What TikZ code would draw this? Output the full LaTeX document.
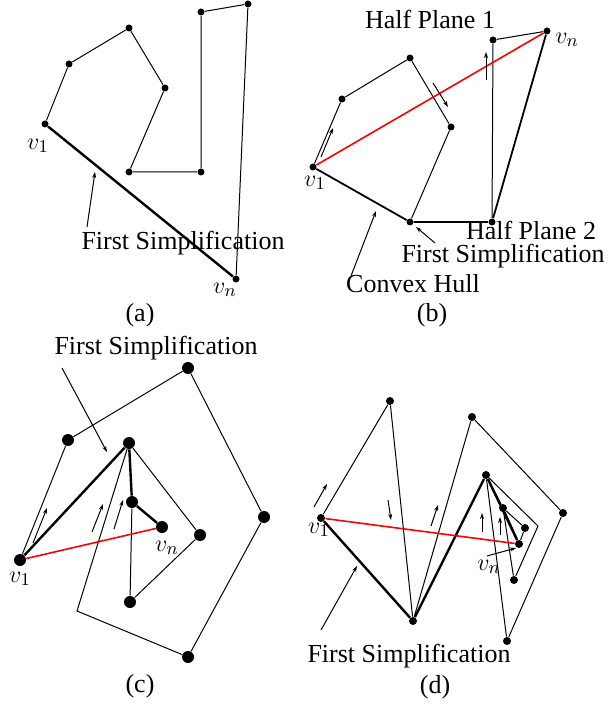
\documentclass[tikz,border=0pt]{standalone}
\usepackage{fontspec}
\setmainfont{Liberation Serif}
\usepackage{tikz}
\usetikzlibrary{arrows.meta}

\begin{document}
\begin{tikzpicture}[x=0.5pt,y=-0.5pt,>={Stealth[length=3pt,width=2pt]},
  dot/.style={circle,fill,inner sep=0pt,minimum size=3.5pt},
  middot/.style={circle,fill,inner sep=0pt,minimum size=4pt},
  bigdot/.style={circle,fill,inner sep=0pt,minimum size=6pt},
  poly/.style={line width=0.5pt},
  simp/.style={line width=1.2pt},
  chord/.style={red,line width=0.8pt},
  hint/.style={->,line width=0.5pt},
  lbl/.style={font=\fontsize{13}{15}\selectfont,inner sep=0pt}]
  \useasboundingbox (0,0) rectangle (608,704);

  % (a)
  \node[dot] (av1) at (45,124) {};
  \node[dot] (a2) at (69,64) {};
  \node[dot] (a3) at (129,28) {};
  \node[dot] (a4) at (165,88) {};
  \node[dot] (a5) at (129,172) {};
  \node[dot] (a6) at (201,172) {};
  \node[dot] (a7) at (201,12) {};
  \node[dot] (a8) at (248,4) {};
  \node[dot] (avn) at (236,279) {};
  \draw[poly] (av1) -- (a2) -- (a3) -- (a4) -- (a5) -- (a6) -- (a7) -- (a8) -- (avn);
  \draw[simp] (av1) -- (avn);
  \node[lbl] (av1l) at (38,146) {$v_1$};
  \node[lbl] (avnl) at (225,290) {$v_n$};
  \node[lbl,anchor=base] (afs) at (183,250) {First Simplification};
  \coordinate (afs0) at (87,227);
  \coordinate (afs1) at (95,172);
  \draw[hint] (afs0) -- (afs1);
  \node[lbl,anchor=base] (acap) at (140,322) {(a)};

  % (b)
  \node[dot] (bv1) at (313,167) {};
  \node[dot] (b2) at (342,99) {};
  \node[dot] (b3) at (410,58) {};
  \node[dot] (b4) at (451,127) {};
  \node[dot] (b5) at (410,222) {};
  \node[dot] (b6) at (492,222) {};
  \node[dot] (b7) at (493,40) {};
  \node[dot] (bvn) at (547,31) {};
  \draw[poly] (bv1) -- (b2) -- (b3) -- (b4) -- (b5);
  \draw[poly] (b6) -- (b7) -- (bvn);
  \draw[line width=0.9pt] (bv1) -- (b5) -- (b6) -- (bvn);
  \draw[chord] (bv1) -- (bvn);
  \coordinate (bh1) at (321,157); \coordinate (bh2) at (333,128);
  \coordinate (bh3) at (433,83);  \coordinate (bh4) at (448,107);
  \coordinate (bh5) at (486,80);  \coordinate (bh6) at (486,52);
  \draw[hint] (bh1) -- (bh2);
  \draw[hint] (bh3) -- (bh4);
  \draw[hint] (bh5) -- (bh6);
  \node[lbl] (bv1l) at (315,183) {$v_1$};
  \node[lbl] (bvnl) at (567,40) {$v_n$};
  \node[lbl,anchor=base] (bhp1) at (430,29) {Half Plane 1};
  \node[lbl,anchor=base] (bhp2) at (531,240) {Half Plane 2};
  \node[lbl,anchor=base] (bfs) at (503,263) {First Simplification};
  \node[lbl,anchor=base] (bch) at (413,293) {Convex Hull};
  \coordinate (bfs0) at (435,243); \coordinate (bfs1) at (416,227);
  \coordinate (bch0) at (351,276); \coordinate (bch1) at (376,211);
  \draw[hint] (bfs0) -- (bfs1);
  \draw[hint] (bch0) -- (bch1);
  \node[lbl,anchor=base] (bcap) at (432,322) {(b)};

  % (c)
  \node[bigdot] (cv1) at (20,560) {};
  \node[bigdot] (c2) at (68,440) {};
  \node[bigdot] (c3) at (188,368) {};
  \node[bigdot] (c4) at (264,517) {};
  \node[bigdot] (c5) at (188,657) {};
  \coordinate (c6) at (77,611);
  \node[bigdot] (c7) at (129,443) {};
  \node[bigdot] (c8) at (200,535) {};
  \node[bigdot] (c9) at (130,602) {};
  \node[bigdot] (c10) at (132,502) {};
  \node[bigdot] (cvn) at (162,527) {};
  \draw[poly] (cv1) -- (c2) -- (c3) -- (c4) -- (c5) -- (c6) -- (c7) -- (c8) -- (c9) -- (c10);
  \draw[simp] (cv1) -- (c7) -- (c10) -- (cvn);
  \draw[chord] (cv1) -- (cvn);
  \coordinate (ch1) at (33,543);  \coordinate (ch2) at (47,508);
  \coordinate (ch3) at (92,532);  \coordinate (ch4) at (103,504);
  \coordinate (ch5) at (114,529); \coordinate (ch6) at (123,500);
  \draw[hint] (ch1) -- (ch2);
  \draw[hint] (ch3) -- (ch4);
  \draw[hint] (ch5) -- (ch6);
  \node[lbl] (cv1l) at (20,579) {$v_1$};
  \node[lbl] (cvnl) at (167,548) {$v_n$};
  \node[lbl,anchor=base] (cfs) at (156,355) {First Simplification};
  \coordinate (cfs0) at (62,368); \coordinate (cfs1) at (107,452);
  \draw[hint] (cfs0) -- (cfs1);
  \node[lbl,anchor=base] (ccap) at (140,692) {(c)};

  % (d)
  \node[middot] (dv1) at (321,518) {};
  \node[middot] (d2) at (390,401) {};
  \node[middot] (d3) at (413,621) {};
  \node[middot] (d4) at (472,417) {};
  \node[middot] (d5) at (563,513) {};
  \node[middot] (d6) at (507,641) {};
  \node[middot] (d7) at (486,475) {};
  \coordinate (d9) at (538,526);
  \node[middot] (d8) at (514,580) {};
  \node[middot] (d10) at (503,508) {};
  \node[middot] (d11) at (525,528) {};
  \node[middot] (dvn) at (519,544) {};
  \draw[poly] (dv1) -- (d2) -- (d3) -- (d4) -- (d5) -- (d6) -- (d7) -- (d9) -- (d8) -- (d10) -- (d11) -- (dvn);
  \draw[poly] (d7) -- (d10);
  \draw[line width=0.9pt] (d10) -- (dvn);
  \draw[simp] (dv1) -- (d3) -- (d7) -- (dvn);
  \draw[chord] (dv1) -- (dvn);
  \coordinate (dh1) at (314,507); \coordinate (dh2) at (327,484);
  \coordinate (dh3) at (388,500); \coordinate (dh4) at (391,520);
  \coordinate (dh5) at (431,526); \coordinate (dh6) at (438,505);
  \coordinate (dh7) at (482,532); \coordinate (dh8) at (482,513);
  \coordinate (dh9) at (500,535); \coordinate (dh10) at (500,517);
  \draw[hint] (dh1) -- (dh2);
  \draw[hint] (dh3) -- (dh4);
  \draw[hint] (dh5) -- (dh6);
  \draw[hint] (dh7) -- (dh8);
  \draw[hint] (dh9) -- (dh10);
  \node[lbl] (dv1l) at (319,530) {$v_1$};
  \node[lbl] (dvnl) at (489,567) {$v_n$};
  \coordinate (dvn0) at (487,556); \coordinate (dvn1) at (516,548);
  \draw[hint] (dvn0) -- (dvn1);
  \node[lbl,anchor=base] (dfs) at (409,662) {First Simplification};
  \coordinate (dfs0) at (321,630); \coordinate (dfs1) at (357,566);
  \draw[hint] (dfs0) -- (dfs1);
  \node[lbl,anchor=base] (dcap) at (435,693) {(d)};
\end{tikzpicture}
\end{document}
